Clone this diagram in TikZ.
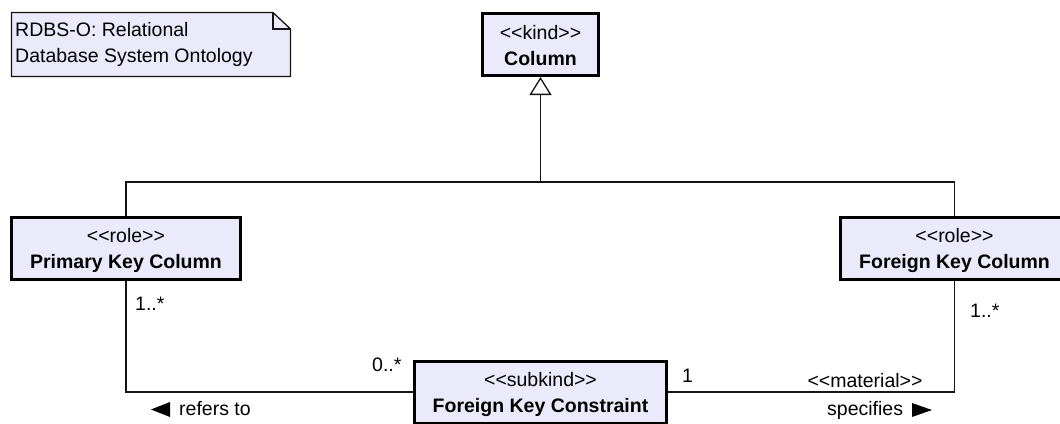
\documentclass[tikz,border=0pt]{standalone}
\usepackage{fontspec}
\setmainfont[Ligatures=TeXOff]{Liberation Sans}
\usetikzlibrary{arrows.meta}

\definecolor{classfill}{RGB}{234,234,250}
\definecolor{inkline}{RGB}{20,20,20}

% stereotype text and two-line class compartment
\newcommand{\stereo}[1]{<\kern0pt<#1>\kern0pt>}
\newcommand{\clsbody}[2]{\rule{0pt}{25.5pt}\stereo{#1}\\\textbf{#2}\rule[-10.5pt]{0pt}{10.5pt}}

\tikzset{
  classbox/.style={draw=black, line width=3pt, fill=classfill, inner sep=0pt,
    minimum height=62pt, align=center, font=\fontsize{19.5}{26}\selectfont},
  conn/.style={draw=inkline, line width=1.3pt},
  mult/.style={inner sep=0pt, font=\fontsize{19.5}{22}\selectfont},
  lbl/.style={inner sep=0pt, font=\fontsize{19.5}{22}\selectfont},
  notetxt/.style={inner sep=0pt, align=left, font=\fontsize{19.5}{26}\selectfont},
}

\begin{document}
\begin{tikzpicture}[x=1pt,y=-1pt]
  \fill[white] (0,0) rectangle (1060,423);
  \useasboundingbox (0,0) rectangle (1060,423);
  \clip (0,0) rectangle (1060,423);

  % note with folded corner
  \filldraw[fill=classfill, draw=inkline, line width=1.3pt]
    (11.5,12.5) -- (273,12.5) -- (290.5,29) -- (290.5,76.5) -- (11.5,76.5) -- cycle;
  \draw[inkline, line width=1.3pt] (273,12.5) -- (273,29) -- (290.5,29);
  \node[notetxt, anchor=base west] (notetext) at (15,62)
    {RDBS-O: Relational\\Database System Ontology};

  % classes
  \node[classbox, minimum width=116pt] (col) at (540.5,44.5) {\clsbody{kind}{Column}};
  \node[classbox, minimum width=229pt] (pk)  at (126,248)   {\clsbody{role}{Primary Key Column}};
  \node[classbox, minimum width=229pt] (fk)  at (954.5,248) {\clsbody{role}{Foreign Key Column}};
  \node[classbox, minimum width=252pt] (fkc) at (540.5,392) {\clsbody{subkind}{Foreign Key Constraint}};

  % generalization set
  \coordinate (gj) at (540.5,182);
  \draw[conn] (pk.north) |- (gj) -| (fk.north);
  \draw[conn, -{Triangle[open, length=18pt, width=22pt, line width=1.3pt]}] (gj) -- (col.south);

  % associations
  \draw[conn] (pk.south) |- (fkc.west);
  \draw[conn] (fkc.east) -| (fk.south);

  % multiplicities
  \node[mult, anchor=base west] (mpk)  at (135,310) {1..*};
  \node[mult, anchor=base west] (mfk)  at (970,317) {1..*};
  \node[mult, anchor=base west] (mfkc) at (372,371) {0..*};
  \node[mult, anchor=base west] (mone) at (682,382) {1};

  % association names
  \node[lbl, anchor=base] (stmat) at (865,387) {\stereo{material}};
  \node[lbl, anchor=base west] (spec) at (827,415) {specifies};
  \fill[black] (912,403) -- (932,410) -- (912,417) -- cycle;
  \node[lbl, anchor=base west] (refs) at (179,415) {refers to};
  \fill[black] (170,402) -- (151,409.5) -- (170,417) -- cycle;
\end{tikzpicture}
\end{document}
